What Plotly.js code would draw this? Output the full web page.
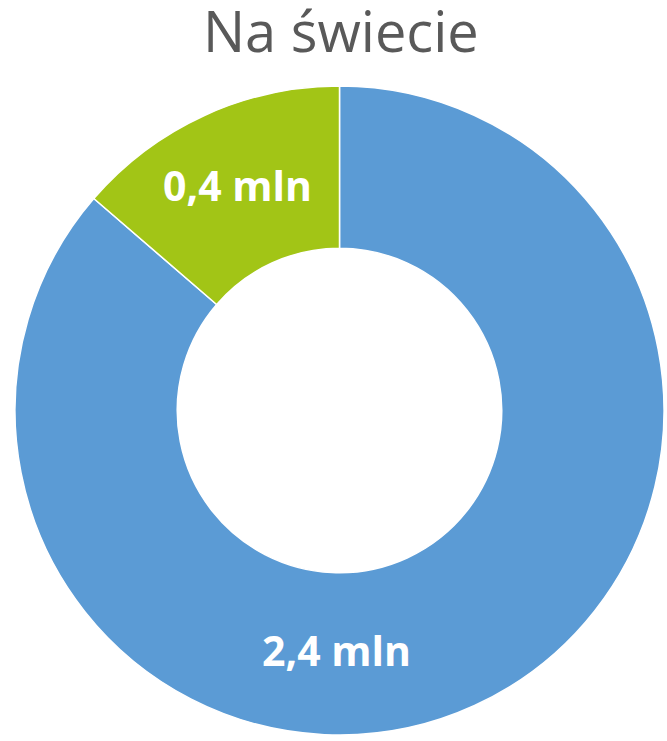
<!DOCTYPE html>
<html>
<head>
<meta charset="utf-8">
<script src="https://cdn.plot.ly/plotly-3.0.1.min.js"></script>
<style>html,body{margin:0;padding:0;background:#fff;}#chart{width:667px;height:741px;}</style>
</head>
<body>
<div id="chart"></div>
<script>
const categories = ["Reszta", "Wybrane"];
const values = [2.4, 0.38];
const unit = " mln";
const colors = ["#5B9BD5", "#A2C516"];
const labelPos = [[0.495, 0.131], [0.344, 0.847]];

const trace = {
  type: "pie",
  labels: categories,
  values: values,
  hole: 0.5,
  sort: false,
  direction: "clockwise",
  rotation: 0,
  textinfo: "none",
  hoverinfo: "none",
  marker: {colors: colors, line: {color: "#ffffff", width: 1.5}},
  showlegend: false,
  domain: {x: [0, 1], y: [0, 1]}
};

const annotations = values.map((v, i) => ({
  text: v.toFixed(1).replace(".", ",") + unit, xref: "paper", yref: "paper",
  x: labelPos[i][0], y: labelPos[i][1],
  xanchor: "center", yanchor: "middle", showarrow: false,
  font: {family: "Open Sans", size: 41, color: "#ffffff", weight: "bold"}
}));

const layout = {
  width: 667, height: 741,
  margin: {l: 14, r: 2, t: 86, b: 6},
  paper_bgcolor: "#ffffff",
  title: {
    text: "Na świecie",
    x: 0.511, xanchor: "center", xref: "container",
    y: 0.956, yanchor: "middle", yref: "container",
    font: {family: "Open Sans", size: 56, color: "#595959"}
  },
  annotations: annotations
};

Plotly.newPlot("chart", [trace], layout, {displayModeBar: false, staticPlot: true});
</script>
</body>
</html>
